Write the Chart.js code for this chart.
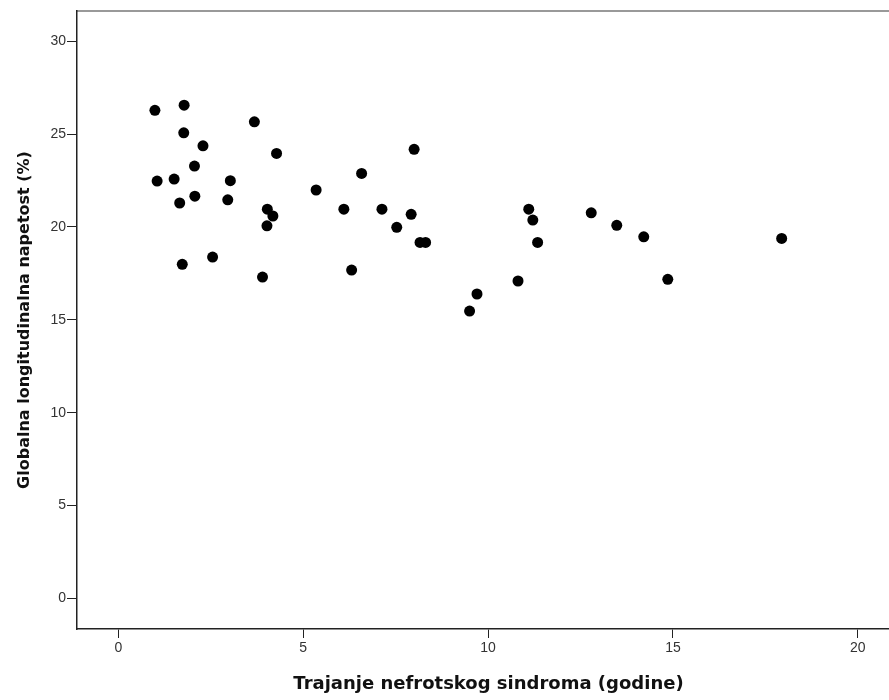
<!DOCTYPE html>
<html>
<head>
<meta charset="utf-8">
<script src="https://cdn.jsdelivr.net/npm/chart.js@4.4.1/dist/chart.umd.min.js"></script>
<style>
html,body{margin:0;padding:0;background:#fff;overflow:hidden;}
#wrap{width:889px;height:700px;position:relative;overflow:hidden;}
</style>
</head>
<body>
<div id="wrap"><canvas id="c" width="900" height="700"></canvas></div>
<script>
// Trajanje nefrotskog sindroma (godine)
const durationYears = [0.99,1.78,1.77,2.29,3.68,4.28,2.06,1.05,1.51,3.03,2.07,1.66,2.96,4.03,4.18,4.02,5.35,6.10,6.58,1.73,2.55,3.90,6.31,8.00,7.13,7.92,7.53,8.16,8.31,11.10,11.21,11.34,10.81,9.70,9.50,12.79,13.48,14.21,14.86,17.94];
// Globalna longitudinalna napetost (%)
const glsPercent = [26.28,26.56,25.07,24.37,25.66,23.96,23.28,22.47,22.58,22.49,21.66,21.29,21.46,20.96,20.59,20.06,21.99,20.96,22.88,17.99,18.38,17.30,17.68,24.18,20.96,20.68,19.98,19.17,19.17,20.96,20.37,19.17,17.09,16.39,15.47,20.76,20.09,19.47,17.18,19.38];
const xTicks = [0,5,10,15,20];
const yTicks = [0,5,10,15,20,25,30];
const xTitle = 'Trajanje nefrotskog sindroma (godine)';
const yTitle = 'Globalna longitudinalna napetost (%)';

const points = durationYears.map((x,i)=>({x:x,y:glsPercent[i]}));
const tickFont = "'Liberation Sans', Arial, sans-serif";
const titleFont = "'DejaVu Sans', Verdana, sans-serif";
const X_MIN = -1.117, X_MAX = 21.14, Y_MIN = -1.65, Y_MAX = 31.63;

function zeroPad(s){ s.paddingLeft=0; s.paddingRight=0; s.paddingTop=0; s.paddingBottom=0; }

new Chart(document.getElementById('c'), {
  type:'scatter',
  data:{datasets:[{data:points,backgroundColor:'#000',borderWidth:0,pointRadius:5.5,pointHoverRadius:5.5,clip:false}]},
  options:{
    responsive:false,animation:false,
    layout:{padding:0,autoPadding:false},
    plugins:{legend:{display:false},tooltip:{enabled:false}},
    scales:{
      x:{type:'linear',position:'bottom',min:X_MIN,max:X_MAX,
        afterFit:(s)=>{s.height=71; zeroPad(s);},
        afterBuildTicks:(s)=>{s.ticks=xTicks.map(v=>({value:v}));},
        ticks:{includeBounds:false,padding:2,color:'#333',font:{family:tickFont,size:14},maxRotation:0},
        grid:{display:true,drawOnChartArea:false,drawTicks:true,tickLength:9,color:'#222',lineWidth:1},
        border:{display:true,color:'#222',width:1.5},
        title:{display:true,text:xTitle,color:'#111',font:{family:titleFont,size:18,weight:'bold'},padding:{top:0,bottom:5}}
      },
      xTop:{type:'linear',position:'top',min:X_MIN,max:X_MAX,
        afterFit:(s)=>{s.height=11; zeroPad(s);},
        ticks:{display:false},
        grid:{display:false,drawTicks:false},
        border:{display:true,color:'#999',width:2}
      },
      y:{type:'linear',position:'left',min:Y_MIN,max:Y_MAX,
        afterFit:(s)=>{s.width=77; zeroPad(s);},
        afterBuildTicks:(s)=>{s.ticks=yTicks.map(v=>({value:v}));},
        ticks:{includeBounds:false,padding:1,color:'#333',font:{family:tickFont,size:14}},
        grid:{display:true,drawOnChartArea:false,drawTicks:true,tickLength:10,color:'#222',lineWidth:1},
        border:{display:true,color:'#222',width:1.5},
        title:{display:true,text:yTitle,color:'#111',font:{family:titleFont,size:16,weight:'bold'},padding:{top:15,bottom:0}}
      }
    }
  }
});
</script>
</body>
</html>
